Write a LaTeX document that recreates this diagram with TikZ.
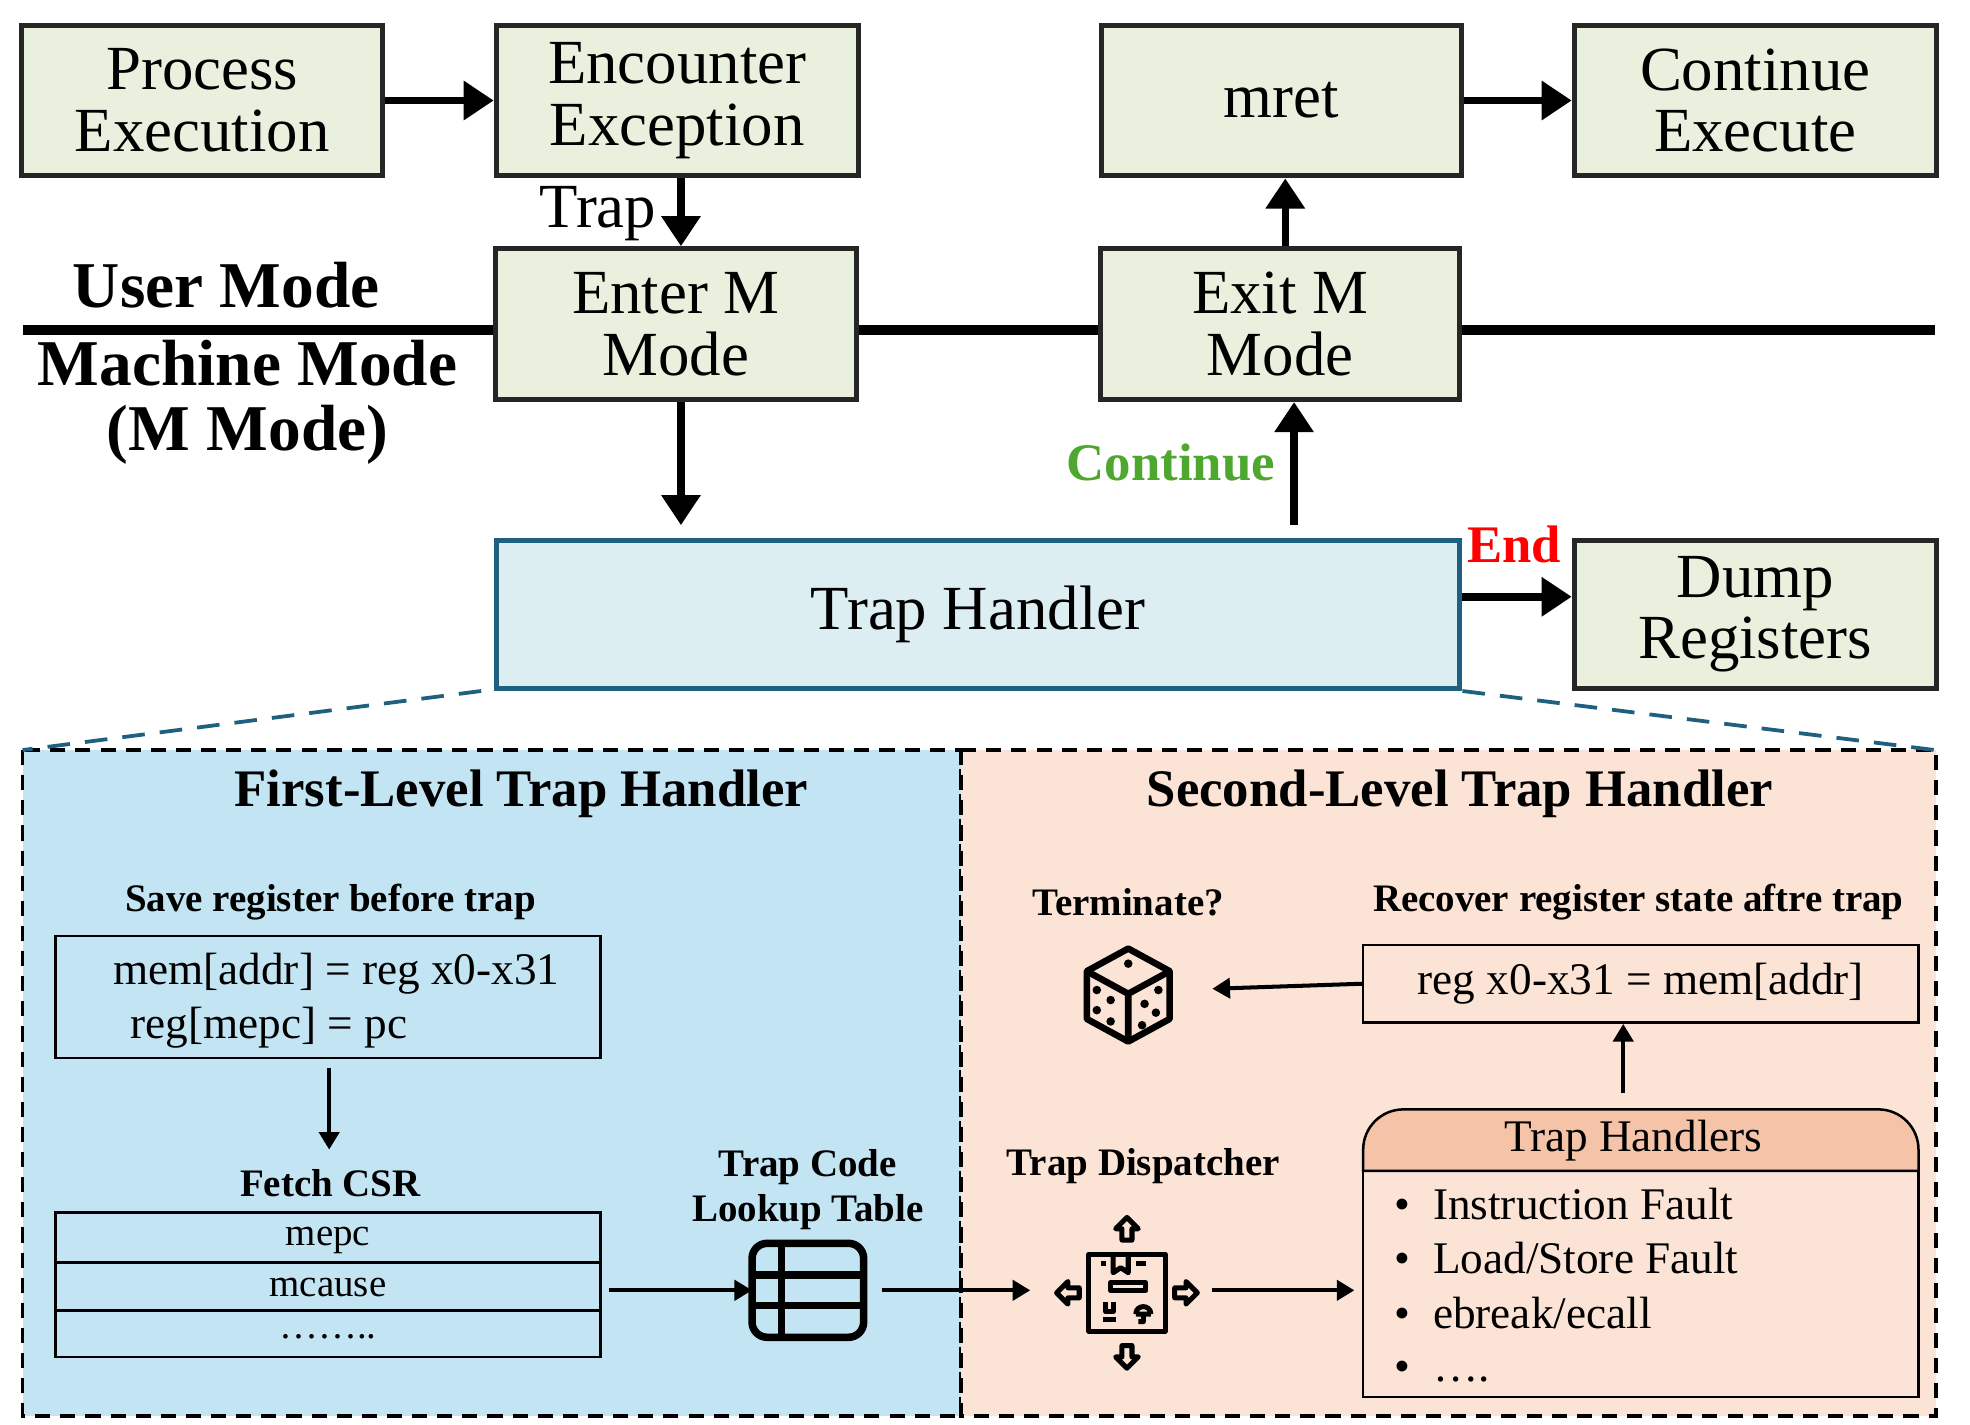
\documentclass[tikz,border=0pt]{standalone}
\usepackage{fontspec}
\setmainfont{Liberation Serif}
\usetikzlibrary{arrows.meta,calc}
\definecolor{boxg}{HTML}{E9F0DD}
\definecolor{thb}{HTML}{DDEEF3}
\definecolor{thd}{HTML}{1F5F80}
\definecolor{lp}{HTML}{C3E4F3}
\definecolor{rp}{HTML}{FBE3D6}
\definecolor{hd}{HTML}{F5C3A8}
\definecolor{cg}{HTML}{4EA72E}
\tikzset{
 big/.style={font=\fontsize{25}{24.5}\selectfont},
 gbox/.style={draw=black!85,line width=2pt,fill=boxg,big,align=center,inner sep=0},
 arr/.style={-{Triangle[length=12pt,width=15pt]},line width=3pt},
 sarr/.style={-{Triangle[length=7pt,width=8pt]},line width=1.6pt},
 lbl/.style={font=\fontsize{15.5}{18}\bfseries\selectfont,align=center},
 txt/.style={font=\fontsize{18}{21}\selectfont,align=center},
}
\begin{document}
\begin{tikzpicture}[x=0.5pt,y=-0.5pt]
\useasboundingbox (0,0) rectangle (1568,1134);
% top boxes
\node[gbox,minimum width=143.5pt,minimum height=60pt] (pe) at (161,80) {Process\\Execution};
\node[gbox,minimum width=144pt,minimum height=60pt] (ee) at (539,80) {Encounter\\Exception};
\node[gbox,minimum width=143pt,minimum height=60pt] (mr) at (1020,80) {mret};
\node[gbox,minimum width=144pt,minimum height=60pt] (ce) at (1397,80) {Continue\\Execute};
\coordinate (l0) at (18,263); \coordinate (l1) at (1540,263);
\draw[line width=4pt] (l0) -- (l1);
\node[gbox,minimum width=143.5pt,minimum height=60pt] (em) at (538,258) {Enter M\\Mode};
\node[gbox,minimum width=143pt,minimum height=60pt] (xm) at (1019,258) {Exit M\\Mode};
\node[font=\fontsize{26}{26}\bfseries\selectfont] (um) at (180,227) {User Mode};
\node[font=\fontsize{26}{26}\bfseries\selectfont,align=center] (mm) at (197,320) {Machine Mode\\(M Mode)};
\draw[arr] (pe) -- (ee);
\draw[arr] (mr) -- (ce);
\draw[arr] (ee.south -| 542,0) -- (em.north -| 542,0);
\node[big] (tr) at (476,170) {Trap};
\draw[arr] (xm.north -| 1023,0) -- (mr.south -| 1023,0);
% trap handler
\node[draw=thd,line width=2pt,fill=thb,big,minimum width=383.5pt,minimum height=59pt,inner sep=0] (th) at (778.5,489) {Trap Handler};
\node[gbox,minimum width=144pt,minimum height=59pt] (dr) at (1397,489) {Dump\\Registers};
\draw[arr] (em.south -| 542,0) -- (542,418) coordinate (c1);
\draw[arr] (1030,418) coordinate (c2) -- (xm.south -| 1030,0) ;
\node[font=\fontsize{21}{21}\bfseries\selectfont,text=cg] (cont) at (932,368) {Continue};
\draw[arr] (th.east |- 0,475) -- (dr.west |- 0,475);
\node[font=\fontsize{21}{21}\bfseries\selectfont,text=red] (end) at (1205,433) {End};
% panels
\draw[dashed,line width=1.5pt,fill=lp,dash pattern=on 6pt off 4pt] (18,597) rectangle (765,1127);
\draw[dashed,line width=1.5pt,fill=rp,dash pattern=on 6pt off 4pt] (765,597) rectangle (1541,1127);
\draw[thd,line width=1.5pt,dash pattern=on 9pt off 6pt] (th.south west) ++(-10,0) -- (18,597);
\draw[thd,line width=1.5pt,dash pattern=on 9pt off 6pt] (th.south east) -- (1540,597);
\node[font=\fontsize{21}{21}\bfseries\selectfont] (t1) at (415,632) {First-Level Trap Handler};
\node[font=\fontsize{21}{21}\bfseries\selectfont] (t2) at (1162,632) {Second-Level Trap Handler};
% left content
\node[lbl] (sr) at (263,718) {Save register before trap};
\node[draw,line width=1pt,minimum width=217pt,minimum height=48.5pt,inner sep=0] (sb) at (261,793.5) {};
\node[txt,anchor=west] at (83,775) {mem[addr] = reg x0-x31};
\node[txt,anchor=west] at (97,818) {reg[mepc] = pc};
\draw[sarr] (262,850) -- (262,915);
\node[lbl] (fc) at (263,942) {Fetch CSR};
\draw[line width=1pt] (44,965) rectangle (478,1080);
\draw[line width=1pt] (44,1005) -- (478,1005) (44,1043) -- (478,1043);
\node[font=\fontsize{15.5}{15}\selectfont] at (261,987) {mepc};
\node[font=\fontsize{15.5}{15}\selectfont] at (261,1025) {mcause};
\node[font=\fontsize{15.5}{15}\selectfont] at (261,1064) {……..};
% table icon
\node[minimum width=44pt,minimum height=37pt,inner sep=0] (ti) at (643,1027) {};
\draw[line width=3pt,rounded corners=6pt] (ti.south west) rectangle (ti.north east);
\draw[line width=3pt] (622,990) -- (622,1064) (600,1015) -- (687,1015) (600,1039) -- (687,1039);
\node[lbl] (tl) at (643,947) {Trap Code\\Lookup Table};
\draw[sarr] (485,1027) -- (ti.west);
% dispatcher icon
\node[minimum width=30pt,minimum height=30pt,inner sep=0] (di) at (897,1029) {};
\begin{scope}[line width=2pt,line join=round]
\draw (di.south west) rectangle (di.north east);
\draw (886,999) -- (886,1013) -- (892,1009) -- (898,1013) -- (898,999);
\draw (878,1004) -- (878,1008) (906,1004) -- (906,1008) (910,1004)--(910,1008);
\draw (884,1021) rectangle (912,1027);
\draw (880,1036) -- (880,1044) -- (886,1044) -- (886,1036) (878,1050) -- (888,1050);
\draw (904,1046) -- (916,1046) (904,1046) .. controls (904,1038) and (916,1038) .. (916,1046) (910,1046) -- (910,1052) -- (906,1052);
\draw (893,987) -- (893,978) -- (888,978) -- (897,969) -- (906,978) -- (901,978) -- (901,987) -- cycle;
\draw (893,1071) -- (893,1080) -- (888,1080) -- (897,1089) -- (906,1080) -- (901,1080) -- (901,1071) -- cycle;
\draw (859,1025) -- (850,1025) -- (850,1020) -- (841,1029) -- (850,1038) -- (850,1033) -- (859,1033) -- cycle;
\draw (935,1025) -- (944,1025) -- (944,1020) -- (953,1029) -- (944,1038) -- (944,1033) -- (935,1033) -- cycle;
\end{scope}
\node[lbl] (tdl) at (910,928) {Trap Dispatcher};
\draw[sarr] (702,1027) -- (820,1027);
% trap handlers box
\draw[line width=1pt,fill=hd,rounded corners=16pt] (1085,932) -- (1085,883) -- (1527,883) [sharp corners] -- (1527,932) -- cycle;
\draw[line width=1pt] (1085,932) rectangle (1527,1112);
\node[txt] (hh) at (1300,908) {Trap Handlers};
\node[txt,anchor=west] (i1) at (1103,958) {• \ Instruction Fault};
\node[txt,anchor=west] (i2) at (1103,1001) {• \ Load/Store Fault};
\node[txt,anchor=west] (i3) at (1103,1045) {• \ ebreak/ecall};
\node[txt,anchor=west] (i4) at (1103,1092) {• \ ….};
\draw[sarr] (965,1027) -- (1078,1027);
% recover
\node[lbl] (rl) at (1304,718) {Recover register state aftre trap};
\node[draw,line width=1pt,minimum width=221pt,minimum height=31pt,txt,inner sep=0] (rb) at (1306,783) {reg x0-x31 = mem[addr]};
\draw[sarr] (1292,870) -- (rb.south -| 1292,0);
\node[lbl] (tm) at (898,718) {Terminate?};
% dice
\begin{scope}[line width=2.6pt,line join=round]
\draw (898,755) -- (931,773) -- (931,811) -- (898,829) -- (865,811) -- (865,773) -- cycle;
\draw (865,773) -- (898,791) -- (931,773) (898,791) -- (898,829);
\end{scope}
\foreach \p in {(898,767),(873,788),(884,796),(873,804),(884,813),(922,788),(911,799),(920,806),(909,816)} \fill \p circle (3.4);
\coordinate (dc) at (965,787);
\draw[sarr] (rb.west) -- (dc);
\end{tikzpicture}
\end{document}
